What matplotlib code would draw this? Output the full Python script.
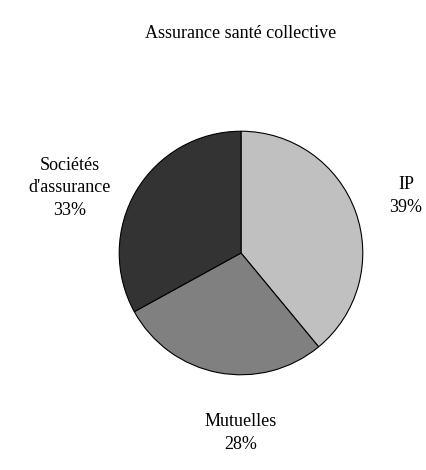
import matplotlib
matplotlib.use("Agg")
import matplotlib.pyplot as plt

title = "Assurance santé collective"
labels = ["IP", "Mutuelles", "Sociétés\nd'assurance"]
shares = [39, 28, 33]
colors = ["#c0c0c0", "#808080", "#333333"]

plt.rcParams['font.family'] = ['Liberation Serif', 'DejaVu Serif']

W, H = 426, 470
fig = plt.figure(figsize=(W / 100, H / 100), dpi=100)

# pie axes: centre (241, 253) px, radius 123 px
cx, cy, r = 241, 253, 123
ax = fig.add_axes([(cx - r) / W, (H - cy - r) / H, 2 * r / W, 2 * r / H])
ax.pie(shares, colors=colors, startangle=90, counterclock=False,
       wedgeprops=dict(edgecolor="black", linewidth=0.8))
ax.set_xlim(-1.01, 1.01)
ax.set_ylim(-1.01, 1.01)
ax.set_aspect("equal")
ax.axis("off")

def px(x, y):
    return x / W, 1 - y / H

fig.text(*px(241, 33), title, ha="center", va="center", fontsize=13)

# label blocks (pixel centres)
label_pos = [(406, 196), (241, 433), (70, 188)]
for lab, val, (x, y) in zip(labels, shares, label_pos):
    fig.text(*px(x, y), f"{lab}\n{val}%", ha="center", va="center",
             fontsize=13, linespacing=1.45)

fig.savefig("out.png", dpi=100)
